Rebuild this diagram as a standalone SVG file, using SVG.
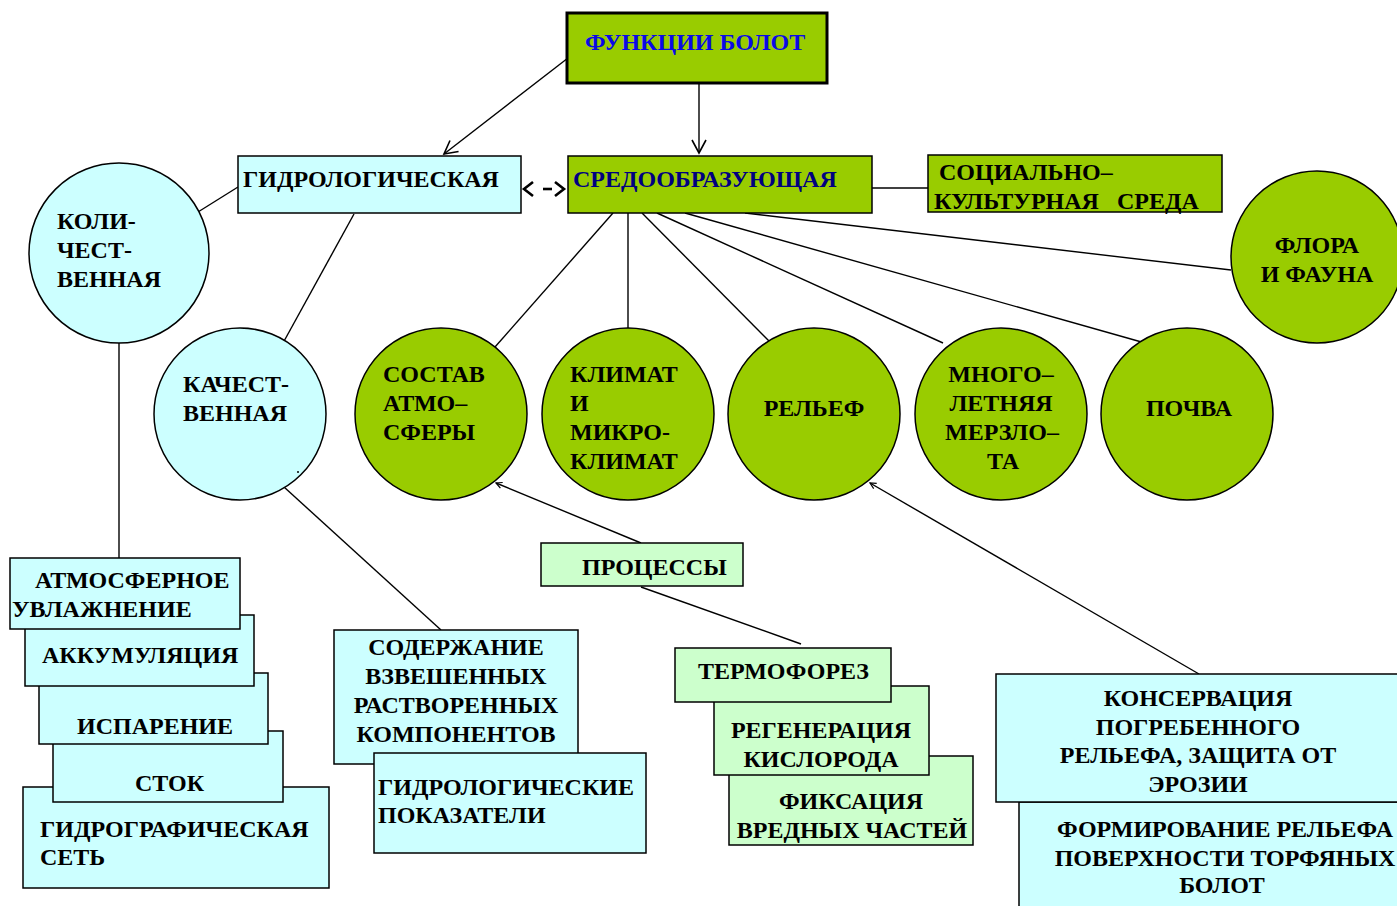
<svg xmlns="http://www.w3.org/2000/svg" width="1397" height="906" viewBox="0 0 1397 906">
<style>
.t{font-family:"Liberation Serif","Times New Roman",serif;font-weight:bold;font-size:24px;fill:#000}
.c{text-anchor:middle}
.g{fill:#99cc00;stroke:#000;stroke-width:1.5}
.b{fill:#ccffff;stroke:#000;stroke-width:1.5}
.l{fill:#ccffcc;stroke:#000;stroke-width:1.5}
.cn{stroke:#000;stroke-width:1.4;fill:none}
</style>
<defs>
<marker id="ah" markerUnits="userSpaceOnUse" markerWidth="16" markerHeight="16" refX="14" refY="8" orient="auto">
<path d="M1,1 L14,8 L1,15" fill="none" stroke="#000" stroke-width="1.6"/>
</marker>
<marker id="sm" markerUnits="userSpaceOnUse" markerWidth="8" markerHeight="8" refX="7" refY="4" orient="auto">
<path d="M1,1 L7,4 L1,7" fill="none" stroke="#000" stroke-width="1.2"/>
</marker>
</defs>
<rect width="1397" height="906" fill="#fff"/>

<g id="connectors">
<line class="cn" x1="568" y1="58" x2="444" y2="154" marker-end="url(#ah)"/>
<line class="cn" x1="699" y1="84" x2="699" y2="153" marker-end="url(#ah)"/>
<g stroke="#000" stroke-width="2.6" fill="none">
<polyline points="533,182 524,189 533,196"/>
<line x1="543" y1="189" x2="552" y2="189"/>
<polyline points="555,182 564,189 555,196"/>
</g>
<line class="cn" x1="872" y1="188" x2="928" y2="188"/>
<line class="cn" x1="238" y1="187" x2="198" y2="212"/>
<line class="cn" x1="354" y1="214" x2="283" y2="343"/>
<line class="cn" x1="119" y1="343" x2="119" y2="558"/>
<line class="cn" x1="284" y1="487" x2="441" y2="630"/>
<line class="cn" x1="613" y1="213" x2="495" y2="347"/>
<line class="cn" x1="628" y1="213" x2="628" y2="328"/>
<line class="cn" x1="642" y1="213" x2="771" y2="343"/>
<line class="cn" x1="657" y1="213" x2="943" y2="343"/>
<line class="cn" x1="685" y1="213" x2="1145" y2="343"/>
<line class="cn" x1="745" y1="213" x2="1231" y2="270"/>
<line class="cn" x1="641" y1="543" x2="496" y2="483" marker-end="url(#sm)"/>
<line class="cn" x1="641" y1="587" x2="801" y2="644"/>
<line class="cn" x1="1199" y1="674" x2="870" y2="483" marker-end="url(#sm)"/>
</g>

<g id="funkcii">
<rect x="567" y="13" width="260" height="70" fill="#99cc00" stroke="#000" stroke-width="3"/>
<text class="t" x="585" y="50" style="fill:#0a0ae6">ФУНКЦИИ БОЛОТ</text>
</g>
<g id="gidro">
<rect class="b" x="238" y="156" width="283" height="57"/>
<text class="t" x="243" y="187">ГИДРОЛОГИЧЕСКАЯ</text>
</g>
<g id="sredo">
<rect class="g" x="568" y="156" width="304" height="57"/>
<text class="t" x="573" y="187" style="fill:#000080">СРЕДООБРАЗУЮЩАЯ</text>
</g>
<g id="social">
<rect class="g" x="928" y="155" width="294" height="57"/>
<text class="t" x="939" y="180">СОЦИАЛЬНО–</text>
<text class="t" x="934" y="209" style="white-space:pre">КУЛЬТУРНАЯ   СРЕДА</text>
</g>
<g id="flora">
<circle class="g" cx="1317" cy="257" r="86"/>
<text class="t c" x="1317" y="253">ФЛОРА</text>
<text class="t c" x="1317" y="282">И ФАУНА</text>
</g>
<g id="kolich">
<circle class="b" cx="119" cy="253" r="90"/>
<text class="t" x="57" y="229">КОЛИ-</text>
<text class="t" x="57" y="258">ЧЕСТ-</text>
<text class="t" x="57" y="287">ВЕННАЯ</text>
</g>
<g id="kachest">
<circle class="b" cx="240" cy="414" r="86"/>
<text class="t" x="183" y="392">КАЧЕСТ-</text>
<text class="t" x="183" y="421">ВЕННАЯ</text>
<circle cx="298" cy="472" r="1" fill="#000"/>
</g>
<g id="sostav">
<circle class="g" cx="441" cy="414" r="86"/>
<text class="t" x="383" y="382">СОСТАВ</text>
<text class="t" x="383" y="411">АТМО–</text>
<text class="t" x="383" y="440">СФЕРЫ</text>
</g>
<g id="klimat">
<circle class="g" cx="628" cy="414" r="86"/>
<text class="t" x="570" y="382">КЛИМАТ</text>
<text class="t" x="570" y="411">И</text>
<text class="t" x="570" y="440">МИКРО-</text>
<text class="t" x="570" y="469">КЛИМАТ</text>
</g>
<g id="relief">
<circle class="g" cx="814" cy="414" r="86"/>
<text class="t c" x="814" y="416">РЕЛЬЕФ</text>
</g>
<g id="merzlota">
<circle class="g" cx="1001" cy="414" r="86"/>
<text class="t c" x="1001" y="382">МНОГО–</text>
<text class="t c" x="1001" y="411">ЛЕТНЯЯ</text>
<text class="t c" x="1002" y="440">МЕРЗЛО–</text>
<text class="t c" x="1003" y="469">ТА</text>
</g>
<g id="pochva">
<circle class="g" cx="1187" cy="414" r="86"/>
<text class="t c" x="1189" y="416">ПОЧВА</text>
</g>

<g id="gidrograf">
<rect class="b" x="23" y="787" width="306" height="101"/>
<text class="t" x="40" y="837">ГИДРОГРАФИЧЕСКАЯ</text>
<text class="t" x="40" y="865">СЕТЬ</text>
</g>
<g id="stok">
<rect class="b" x="53" y="731" width="230" height="71"/>
<text class="t" x="135" y="791">СТОК</text>
</g>
<g id="isparenie">
<rect class="b" x="39" y="673" width="229" height="71"/>
<text class="t" x="77" y="734">ИСПАРЕНИЕ</text>
</g>
<g id="akkum">
<rect class="b" x="25" y="615" width="229" height="71"/>
<text class="t" x="42" y="663">АККУМУЛЯЦИЯ</text>
</g>
<g id="atmosf">
<rect class="b" x="10" y="558" width="230" height="71"/>
<text class="t" x="35" y="588">АТМОСФЕРНОЕ</text>
<text class="t" x="12" y="617">УВЛАЖНЕНИЕ</text>
</g>

<g id="soderzh">
<rect class="b" x="334" y="630" width="244" height="134"/>
<text class="t c" x="456" y="655">СОДЕРЖАНИЕ</text>
<text class="t c" x="456" y="684">ВЗВЕШЕННЫХ</text>
<text class="t c" x="456" y="713">РАСТВОРЕННЫХ</text>
<text class="t c" x="456" y="742">КОМПОНЕНТОВ</text>
</g>
<g id="gidropok">
<rect class="b" x="374" y="753" width="272" height="100"/>
<text class="t" x="378" y="795">ГИДРОЛОГИЧЕСКИЕ</text>
<text class="t" x="378" y="823">ПОКАЗАТЕЛИ</text>
</g>

<g id="processy">
<rect class="l" x="541" y="543" width="202" height="43"/>
<text class="t" x="582" y="575">ПРОЦЕССЫ</text>
</g>
<g id="fiksaciya">
<rect class="l" x="729" y="756" width="244" height="89"/>
<text class="t c" x="851" y="809">ФИКСАЦИЯ</text>
<text class="t c" x="852" y="838">ВРЕДНЫХ ЧАСТЕЙ</text>
</g>
<g id="regeneraciya">
<rect class="l" x="714" y="686" width="215" height="89"/>
<text class="t c" x="821" y="738">РЕГЕНЕРАЦИЯ</text>
<text class="t c" x="821" y="767">КИСЛОРОДА</text>
</g>
<g id="termoforez">
<rect class="l" x="675" y="648" width="216" height="54"/>
<text class="t" x="698" y="679">ТЕРМОФОРЕЗ</text>
</g>

<g id="formirovanie">
<rect class="b" x="1019" y="802" width="400" height="120"/>
<text class="t c" x="1225" y="837">ФОРМИРОВАНИЕ РЕЛЬЕФА</text>
<text class="t c" x="1225" y="866">ПОВЕРХНОСТИ ТОРФЯНЫХ</text>
<text class="t c" x="1222" y="893">БОЛОТ</text>
</g>
<g id="konservaciya">
<rect class="b" x="996" y="674" width="424" height="128"/>
<text class="t c" x="1198" y="706">КОНСЕРВАЦИЯ</text>
<text class="t c" x="1198" y="735">ПОГРЕБЕННОГО</text>
<text class="t c" x="1198" y="763">РЕЛЬЕФА, ЗАЩИТА ОТ</text>
<text class="t c" x="1198" y="792">ЭРОЗИИ</text>
</g>
</svg>
